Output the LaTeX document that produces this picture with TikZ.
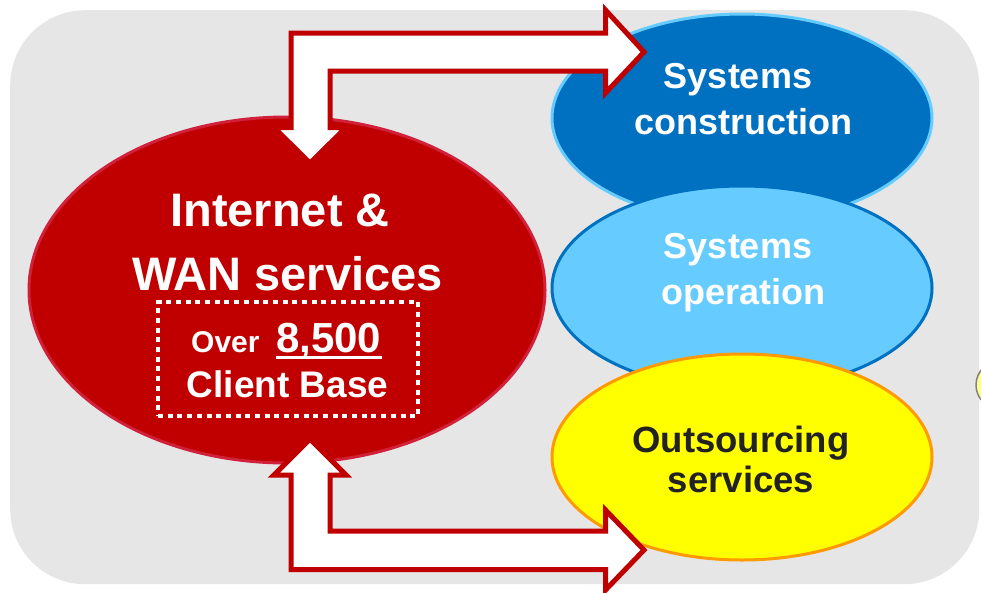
\documentclass[tikz,border=0pt]{standalone}
\usepackage{fontspec}
\setmainfont{Liberation Sans}
\usetikzlibrary{shapes.geometric}
\definecolor{bggray}{HTML}{E6E6E6}
\definecolor{dred}{HTML}{C00000}
\definecolor{rededge}{HTML}{D0203A}
\definecolor{mblue}{HTML}{0070C0}
\definecolor{lblue}{HTML}{66CCFF}
\definecolor{pyellow}{HTML}{FFFF00}
\definecolor{orng}{HTML}{FF9900}
\definecolor{dtext}{HTML}{222222}
\definecolor{paleyellow}{HTML}{FFFF99}
\definecolor{ringgray}{HTML}{808080}
\begin{document}
\begin{tikzpicture}[x=1pt,y=-1pt,
  oval/.style={ellipse, inner sep=0pt, line width=3pt},
  lbl/.style={anchor=base, inner sep=0pt, text=white, font=\bfseries\fontsize{36}{36}\selectfont},
  biglbl/.style={lbl, font=\bfseries\fontsize{47}{47}\selectfont},
  blockarrow/.style={draw=dred, fill=white, line width=5pt, line join=miter, miter limit=10}]
\useasboundingbox (0,0) rectangle (981,592);
\node[fill=bggray, rounded corners=75pt, minimum width=969pt, minimum height=574pt,
      inner sep=0pt, anchor=north west] (bg) at (10,10) {};
\node[circle, fill=paleyellow, draw=ringgray, line width=1.5pt, minimum size=48pt, inner sep=0pt] (extra) at (1000,385) {};
% right-hand ellipses
\node[oval, fill=mblue, draw=lblue, minimum width=380pt, minimum height=208pt] (constr) at (742,118) {};
\node[oval, fill=lblue, draw=mblue, minimum width=380pt, minimum height=204pt] (oper) at (742,288) {};
\node[oval, fill=pyellow, draw=orng, minimum width=380pt, minimum height=206pt] (outs) at (742,457) {};
% main red ellipse
\node[oval, fill=dred, draw=rededge, minimum width=516pt, minimum height=346pt] (inet) at (287,290) {};
% dotted client box
\node[draw=white, dash pattern=on 5pt off 4.7pt, line width=4.5pt, minimum width=260pt,
      minimum height=114pt, inner sep=0pt] (clientbox) at (288,359) {};
% block arrows
\draw[blockarrow] (310,163) -- (346,127.5) -- (330,127.5) -- (330,71) -- (605.5,71) -- (605.5,93)
  -- (644,52) -- (605.5,10) -- (605.5,33) -- (291,33) -- (291,127.5) -- (274,127.5) -- cycle;
\draw[blockarrow] (310,439) -- (346,475) -- (330,475) -- (330,531) -- (605.5,531) -- (605.5,510)
  -- (644,550) -- (605.5,590) -- (605.5,569.5) -- (291,569.5) -- (291,475) -- (274,475) -- cycle;
% texts
\node[biglbl] (t1) at (280,226) {Internet \&};
\node[biglbl] (t2) at (287.5,290) {WAN services};
\node[lbl, anchor=base west, font=\bfseries\fontsize{30}{30}\selectfont] (tover) at (191,352) {Over};
\node[lbl, anchor=base west, font=\bfseries\fontsize{42}{42}\selectfont] (tnum) at (276,352) {8,500};
\draw[white, line width=3pt] ([yshift=-5pt]tnum.base west) -- ([yshift=-5pt]tnum.base east);
\node[lbl, font=\bfseries\fontsize{37}{37}\selectfont] (tclient) at (287.5,397) {Client Base};
\node[lbl] (s1) at (738,88) {Systems};
\node[lbl] (s2) at (743,134) {construction};
\node[lbl] (o1) at (738,258) {Systems};
\node[lbl] (o2) at (743,304) {operation};
\node[lbl, text=dtext, font=\bfseries\fontsize{36.5}{36.5}\selectfont] (u1) at (741,452) {Outsourcing};
\node[lbl, text=dtext, font=\bfseries\fontsize{36.5}{36.5}\selectfont] (u2) at (741,492) {services};
\end{tikzpicture}
\end{document}
